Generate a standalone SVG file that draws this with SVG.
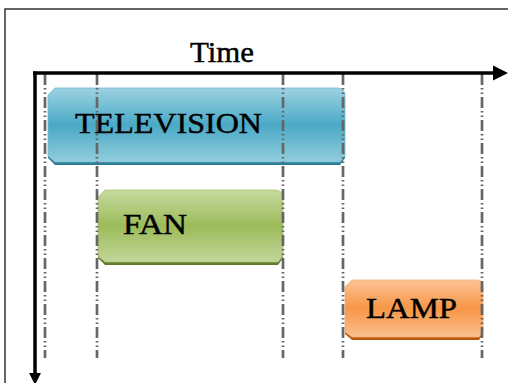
<svg xmlns="http://www.w3.org/2000/svg" width="508" height="383" viewBox="0 0 508 383">
  <defs>
    <linearGradient id="gBlue" x1="0" y1="0" x2="0" y2="1">
      <stop offset="0" stop-color="#9dd2e1"/>
      <stop offset="0.5" stop-color="#4aa9c6"/>
      <stop offset="1" stop-color="#93cddd"/>
    </linearGradient>
    <linearGradient id="gGreen" x1="0" y1="0" x2="0" y2="1">
      <stop offset="0" stop-color="#c6da9f"/>
      <stop offset="0.5" stop-color="#9bbb59"/>
      <stop offset="1" stop-color="#c3d69b"/>
    </linearGradient>
    <linearGradient id="gOrange" x1="0" y1="0" x2="0" y2="1">
      <stop offset="0" stop-color="#fbc394"/>
      <stop offset="0.5" stop-color="#f79646"/>
      <stop offset="1" stop-color="#fac090"/>
    </linearGradient>
    <marker id="arrow" viewBox="0 0 10 10" refX="0" refY="5" markerWidth="4.3" markerHeight="4.6" markerUnits="strokeWidth" orient="auto">
      <path d="M0,0 L10,5 L0,10 Z" fill="#000"/>
    </marker>
    <marker id="arrowV" viewBox="0 0 10 10" refX="0" refY="5" markerWidth="3.4" markerHeight="4.6" markerUnits="strokeWidth" orient="auto">
      <path d="M0,0 L10,5 L0,10 Z" fill="#000"/>
    </marker>
  </defs>
  <style>
    .frame { fill: none; stroke: #333; stroke-width: 1.5; }
    .axis { fill: none; stroke: #000; }
    .grid { fill: none; stroke: #666; stroke-width: 2.7; stroke-dasharray: 11 3 1.5 3 1.5 3; }
    .label { font-family: "Liberation Serif", "Times New Roman", serif; font-size: 29px; fill: #000; stroke: #000; stroke-width: 0.45; }
  </style>

  <rect class="frame" x="5" y="9" width="520" height="400"/>

  <text class="label" x="190" y="62" textLength="64" lengthAdjust="spacingAndGlyphs">Time</text>

  <g id="television">
    <path d="M55,91 H337 Q345,91 345,99 V158 L340,165 H55 L48,158 V95 Z" fill="#2f7d93"/>
    <path d="M55,88 H337 Q345,88 345,96 V156 L340,162 H55 L48,156 V95 Z" fill="url(#gBlue)" stroke="#6fbad0" stroke-width="0.8"/>
    <text class="label" x="75" y="133" textLength="187" lengthAdjust="spacingAndGlyphs">TELEVISION</text>
  </g>

  <g id="fan">
    <path d="M105,193 H275 Q283,193 283,201 V258 L278,265 H105 L98,258 V200 Z" fill="#5f7a2e"/>
    <path d="M105,190 H275 Q283,190 283,198 V256 L278,262 H105 L98,256 V197 Z" fill="url(#gGreen)" stroke="#a9c66e" stroke-width="0.8"/>
    <text class="label" x="123" y="234" textLength="64" lengthAdjust="spacingAndGlyphs">FAN</text>
  </g>

  <g id="lamp">
    <path d="M352,283 H477 Q483,283 483,289 V334 L479,340 H352 L345,334 V289 Z" fill="#b65a12"/>
    <path d="M352,280 H477 Q483,280 483,286 V332 L479,337 H352 L345,332 V287 Z" fill="url(#gOrange)" stroke="#f9ad70" stroke-width="0.8"/>
    <text class="label" x="366" y="318" textLength="91" lengthAdjust="spacingAndGlyphs">LAMP</text>
  </g>

  <g id="connectors">
    <line class="grid" x1="45" y1="74" x2="45" y2="358"/>
    <line class="grid" x1="97" y1="74" x2="97" y2="358"/>
    <line class="grid" x1="283" y1="74" x2="283" y2="358"/>
    <line class="grid" x1="343" y1="74" x2="343" y2="358"/>
    <line class="grid" x1="482" y1="74" x2="482" y2="358"/>
    <line class="axis" x1="33" y1="73" x2="493" y2="73" stroke-width="3.5" marker-end="url(#arrow)"/>
    <line class="axis" x1="35" y1="71.5" x2="35" y2="373" stroke-width="3.5" marker-end="url(#arrowV)"/>
  </g>
</svg>
